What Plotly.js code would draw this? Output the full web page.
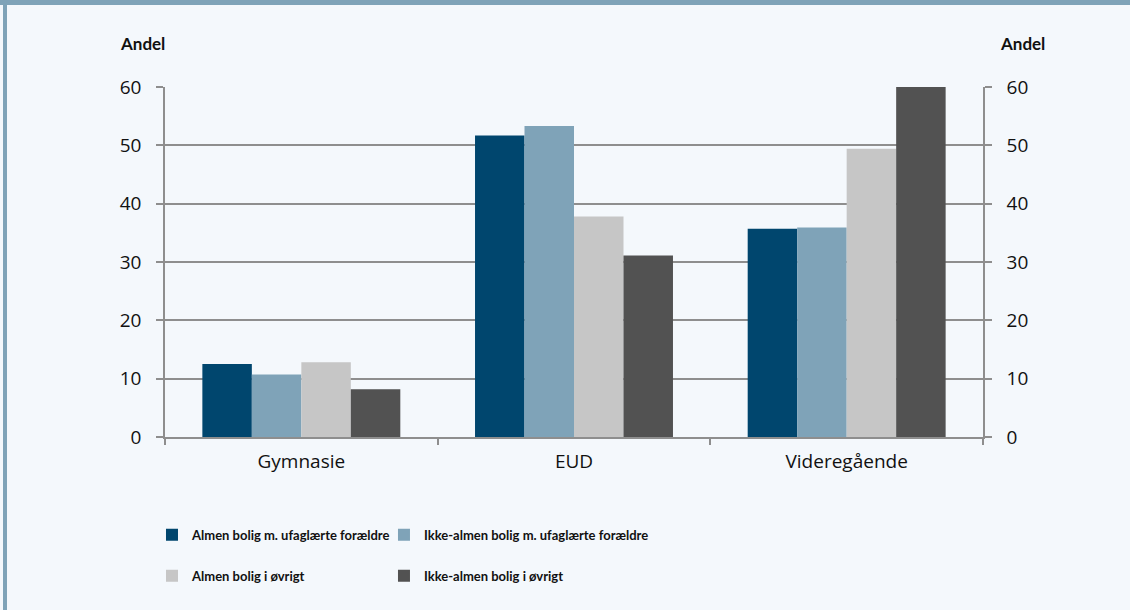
<!DOCTYPE html>
<html>
<head>
<meta charset="utf-8">
<script src="https://cdn.plot.ly/plotly-3.0.1.min.js"></script>
<style>
  html, body { margin: 0; padding: 0; background: #f4f8fc; }
  #wrap { position: relative; width: 1130px; height: 610px; overflow: hidden; }
  #chart { position: absolute; left: 0; top: 0; width: 1130px; height: 610px; }
  .frame-top { position: absolute; left: 0; top: 0; width: 1130px; height: 5px; background: #7fa3b8; pointer-events: none; }
  .frame-left { position: absolute; left: 3px; top: 0; width: 4px; height: 610px; background: #7fa3b8; pointer-events: none; }
</style>
</head>
<body>
<div id="wrap">
  <div id="chart"></div>
  <div class="frame-top"></div>
  <div class="frame-left"></div>
</div>
<script>
const categories = ["Gymnasie", "EUD", "Videregående"];
const seriesNames = [
  "Almen bolig m. ufaglærte forældre",
  "Ikke-almen bolig m. ufaglærte forældre",
  "Almen bolig i øvrigt",
  "Ikke-almen bolig i øvrigt"
];
const almenUfaglaerte = [12.5, 51.7, 35.7];
const ikkeAlmenUfaglaerte = [10.7, 53.3, 35.9];
const almenOevrigt = [12.8, 37.8, 49.4];
const ikkeAlmenOevrigt = [8.2, 31.1, 60.0];
const seriesColors = ["#00466e", "#7fa3b8", "#c6c6c6", "#525252"];
const yTickVals = [0, 10, 20, 30, 40, 50, 60];
const axisLabel = "Andel";

const seriesValues = [almenUfaglaerte, ikkeAlmenUfaglaerte, almenOevrigt, ikkeAlmenOevrigt];
const legendIds = ["legend", "legend2", "legend3", "legend4"];

const traces = seriesValues.map((vals, i) => ({
  type: "bar",
  name: seriesNames[i],
  x: categories,
  y: vals,
  marker: { color: seriesColors[i], line: { width: 0 } },
  legend: legendIds[i],
  hoverinfo: "x+y+name"
}));

// invisible helper so the right-hand (mirrored) axis is drawn
traces.push({
  type: "scatter",
  mode: "markers",
  x: categories,
  y: ikkeAlmenOevrigt,
  yaxis: "y2",
  marker: { opacity: 0 },
  showlegend: false,
  hoverinfo: "skip"
});

const gridCol = "#8e8e8e";
const tickFont = { family: "Open Sans, Noto Sans, sans-serif", size: 19, color: "#111111" };
const legendFont = { family: "Lato, sans-serif", size: 13, color: "#111111", weight: "bold" };

// legend slots: 2 columns x 2 rows (paper coordinates)
const legendCols = [-0.0159, 0.2677];
const legendRows = [-0.2364, -0.3534];
function legendBox(col, row) {
  return {
    orientation: "h",
    x: legendCols[col], xanchor: "left",
    y: legendRows[row], yanchor: "top",
    font: legendFont,
    bgcolor: "rgba(0,0,0,0)"
  };
}

const layout = {
  width: 1130,
  height: 610,
  paper_bgcolor: "#f4f8fc",
  plot_bgcolor: "#f4f8fc",
  margin: { l: 165, r: 147, t: 87, b: 173 },
  barmode: "group",
  bargap: 0.274,
  bargroupgap: 0,
  showlegend: true,
  xaxis: {
    type: "category",
    tickson: "boundaries",
    ticks: "outside",
    ticklen: 6,
    tickwidth: 1.5,
    tickcolor: gridCol,
    showline: true,
    linecolor: gridCol,
    linewidth: 1.5,
    showgrid: false,
    tickfont: tickFont,
    ticklabelstandoff: 6,
    fixedrange: true
  },
  yaxis: {
    range: [0, 60],
    tickvals: yTickVals,
    ticks: "outside",
    ticklen: 7,
    tickwidth: 1.5,
    tickcolor: gridCol,
    showline: true,
    linecolor: gridCol,
    linewidth: 1.5,
    showgrid: true,
    gridcolor: gridCol,
    gridwidth: 1.5,
    zeroline: false,
    tickfont: tickFont,
    ticklabelstandoff: 11,
    fixedrange: true
  },
  yaxis2: {
    overlaying: "y",
    side: "right",
    range: [0, 60],
    tickvals: yTickVals,
    ticks: "outside",
    ticklen: 7,
    tickwidth: 1.5,
    tickcolor: gridCol,
    showline: true,
    linecolor: gridCol,
    linewidth: 1.5,
    showgrid: false,
    zeroline: false,
    tickfont: tickFont,
    ticklabelstandoff: 11,
    fixedrange: true
  },
  legend: legendBox(0, 0),
  legend2: legendBox(1, 0),
  legend3: legendBox(0, 1),
  legend4: legendBox(1, 1),
  annotations: [
    { text: "<b>" + axisLabel + "</b>", xref: "paper", yref: "paper", x: -0.028, y: 1.123,
      xanchor: "center", yanchor: "middle", showarrow: false,
      font: { family: "Lato, sans-serif", size: 17, color: "#111111" } },
    { text: "<b>" + axisLabel + "</b>", xref: "paper", yref: "paper", x: 1.048, y: 1.123,
      xanchor: "center", yanchor: "middle", showarrow: false,
      font: { family: "Lato, sans-serif", size: 17, color: "#111111" } }
  ]
};

Plotly.newPlot("chart", traces, layout, { displayModeBar: false });
</script>
</body>
</html>
